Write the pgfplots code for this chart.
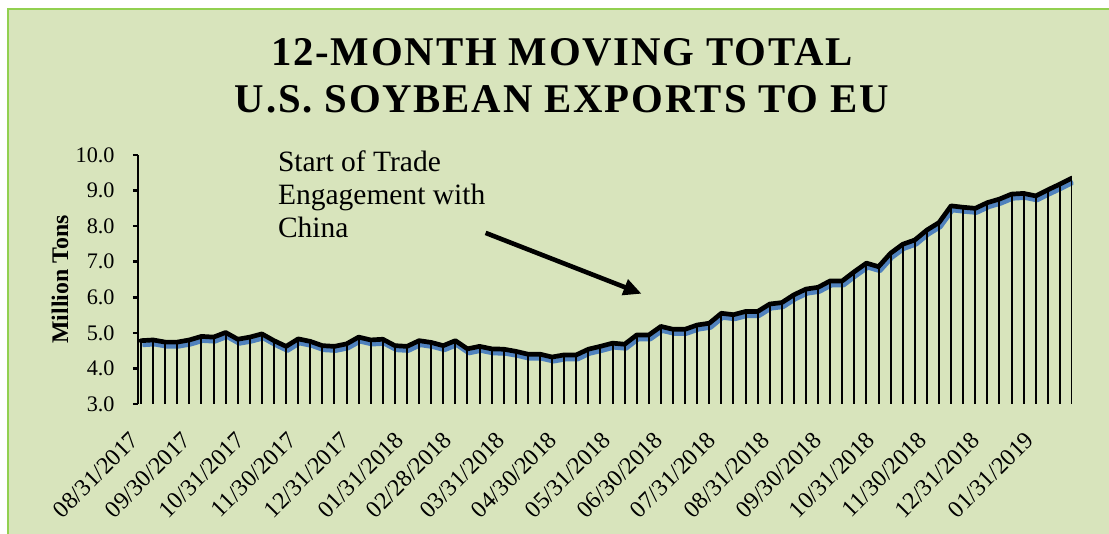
\documentclass[border=0pt]{standalone}
\usepackage{fontspec}
\setmainfont{Liberation Serif}
\newfontfamily\titlefont[LetterSpace=4.4]{Liberation Serif}
\usepackage{pgfplots}
\pgfplotsset{compat=1.18}
\usetikzlibrary{arrows.meta}
\definecolor{bg}{RGB}{216,228,188}
\definecolor{bord}{RGB}{146,208,80}
\definecolor{serblue}{RGB}{79,129,189}

\pgfplotstableread{
x y
0 4.78
1 4.80
2 4.74
3 4.74
4 4.80
5 4.90
6 4.88
7 5.01
8 4.82
9 4.88
10 4.97
11 4.78
12 4.62
13 4.83
14 4.76
15 4.64
16 4.62
17 4.69
18 4.88
19 4.80
20 4.82
21 4.64
22 4.62
23 4.78
24 4.73
25 4.64
26 4.78
27 4.55
28 4.62
29 4.55
30 4.54
31 4.48
32 4.40
33 4.40
34 4.32
35 4.38
36 4.38
37 4.54
38 4.62
39 4.71
40 4.68
41 4.94
42 4.94
43 5.18
44 5.10
45 5.10
46 5.22
47 5.27
48 5.55
49 5.51
50 5.60
51 5.60
52 5.81
53 5.85
54 6.07
55 6.23
56 6.28
57 6.46
58 6.46
59 6.72
60 6.96
61 6.86
62 7.24
63 7.49
64 7.61
65 7.89
66 8.10
67 8.57
68 8.53
69 8.50
70 8.66
71 8.76
72 8.90
73 8.92
74 8.85
75 9.02
76 9.18
77 9.35
}\datatable

\begin{document}
\begin{tikzpicture}
\useasboundingbox (-69pt,-65pt) rectangle (485.5pt,202pt);
\fill[white] (-69pt,-65pt) rectangle (485.5pt,202pt);
\fill[bg] (-65pt,-66pt) rectangle (486pt,197.5pt);
\draw[bord, line width=1pt] (-65pt,-66pt) -- (-65pt,197.5pt) -- (486pt,197.5pt);

\node[anchor=base, font=\titlefont\bfseries\fontsize{20.4}{24}\selectfont] at (212pt,169pt) {12-MONTH MOVING TOTAL};
\node[anchor=base, font=\titlefont\bfseries\fontsize{20.4}{24}\selectfont] at (212pt,145.8pt) {U.S. SOYBEAN EXPORTS TO EU};

\begin{axis}[
  scale only axis, width=467pt, height=124.5pt,
  at={(0pt,0pt)}, anchor=south west,
  xmin=-0.25, xmax=77, ymin=3, ymax=10,
  axis lines*=left,
  x axis line style={draw=none},
  y axis line style={line width=1.25pt, -},
  clip mode=individual,
  tick align=outside,
  major tick length=2.5pt,
  ytick={3,4,...,10},
  ytick style={line width=1.25pt, black},
  xtick style={draw=none},
  /pgf/number format/assume math mode=true,
  yticklabel={\pgfmathprintnumber[fixed,fixed zerofill,precision=1]{\tick}},
  yticklabel style={inner sep=0pt, xshift=-9pt, font=\fontsize{11.1}{13}\selectfont},
  xtick={0,4.2857,8.7143,13,17.4286,21.8571,25.8571,30.2857,34.5714,39,43.2857,47.7143,52.1429,56.4286,60.8571,65.1429,69.5714,74},
  xticklabels={08/31/2017,09/30/2017,10/31/2017,11/30/2017,12/31/2017,01/31/2018,02/28/2018,03/31/2018,04/30/2018,05/31/2018,06/30/2018,07/31/2018,08/31/2018,09/30/2018,10/31/2018,11/30/2018,12/31/2018,01/31/2019},
  xticklabel style={xshift=-6pt, yshift=-10.5pt, rotate=45, anchor=north east, inner sep=0pt, font=\fontsize{12}{14}\selectfont},
  ylabel={Million Tons},
  every axis y label/.style={at={(axis description cs:-0.0835,0.5)}, rotate=90, anchor=center, font=\fontsize{11.9}{13}\selectfont\bfseries},
]
\addplot[serblue, line width=2.3pt, line join=round, xshift=0.7pt, yshift=-2.1pt] table[x=x,y=y] {\datatable};
\addplot[ycomb, black, line width=1pt] table[x=x,y=y] {\datatable};
\addplot[black, line width=2.35pt, line join=round, line cap=round] table[x=x,y=y] {\datatable};
\node[anchor=north west, inner sep=0pt, align=left, font=\fontsize{14.75}{16.5}\selectfont] at (axis cs:11.3,10.13) {Start of Trade\\Engagement with\\China};
\draw[black, line width=2.3pt, -{Triangle[length=9pt, width=8pt]}] (axis cs:28.5,7.81) -- (axis cs:41.4,6.10);
\end{axis}
\end{tikzpicture}
\end{document}
